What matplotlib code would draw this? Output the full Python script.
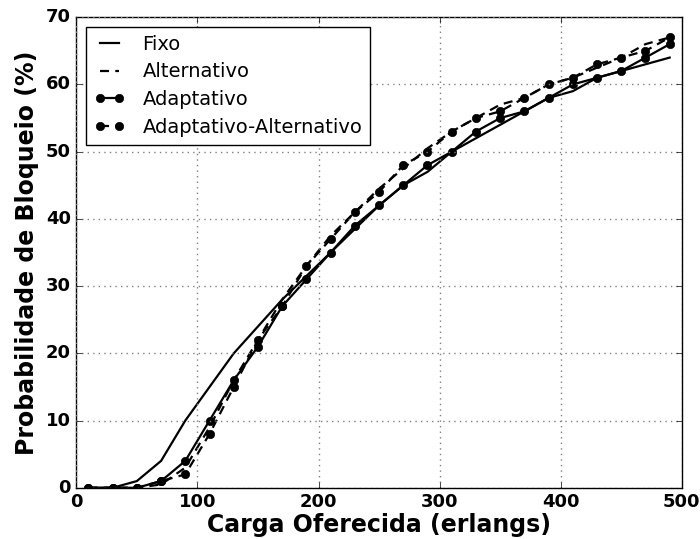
import matplotlib
matplotlib.use('Agg')
import matplotlib.pyplot as plt

plt.style.use('classic')

carga = [10, 30, 50, 70, 90, 110, 130, 150, 170, 190, 210, 230, 250,
         270, 290, 310, 330, 350, 370, 390, 410, 430, 450, 470, 490]

fixo = [0, 0, 1, 4, 10, 15, 20, 24, 28, 31.5, 35, 38.5, 42,
        45, 47, 50, 52, 54, 56, 58, 59, 61, 62, 63, 64]
alternativo = [0, 0, 0, 0.5, 3, 9, 16, 22, 28, 33, 37.5, 41, 44.5,
               47.5, 50.5, 53, 55, 57, 58, 60, 61, 62.5, 64, 66, 67]
adaptativo = [0, 0, 0, 1, 4, 10, 16, 21, 27, 31, 35, 39, 42,
              45, 48, 50, 53, 55, 56, 58, 60, 61, 62, 64, 66]
adapt_alt = [0, 0, 0, 1, 2, 8, 15, 22, 27, 33, 37, 41, 44,
             48, 50, 53, 55, 56, 58, 60, 61, 63, 64, 65, 67]

tracejado = (6.5, 4.5)

fig = plt.figure(figsize=(7.0, 5.39), dpi=100, facecolor='white')
ax = fig.add_axes([0.109, 0.095, 0.865, 0.873])
ax.set_facecolor('white')

ax.plot(carga, fixo, 'k-', lw=1.6, label='Fixo')
ax.plot(carga, alternativo, 'k--', lw=1.6, dashes=tracejado, label='Alternativo')
ax.plot(carga, adaptativo, 'k-o', lw=1.6, ms=6, label='Adaptativo')
ax.plot(carga, adapt_alt, 'k--o', lw=1.6, ms=6, dashes=tracejado,
        label='Adaptativo-Alternativo')

ax.set_xlim(0, 500)
ax.set_ylim(0, 70)
ax.set_xticks([0, 100, 200, 300, 400, 500])
ax.set_yticks([0, 10, 20, 30, 40, 50, 60, 70])
ax.grid(True, color='gray', linestyle=':', linewidth=1)
for lbl in ax.get_xticklabels() + ax.get_yticklabels():
    lbl.set_fontsize(13)
    lbl.set_fontweight('bold')

ax.set_xlabel('Carga Oferecida (erlangs)', fontsize=17, fontweight='bold', labelpad=1)
ax.set_ylabel('Probabilidade de Bloqueio (%)', fontsize=17, fontweight='bold')
ax.legend(loc='upper left', fontsize=14, numpoints=2, handlelength=1.6,
          handletextpad=0.9, labelspacing=0.45, borderaxespad=0.5)

fig.savefig('out.png', dpi=100, facecolor='white')
